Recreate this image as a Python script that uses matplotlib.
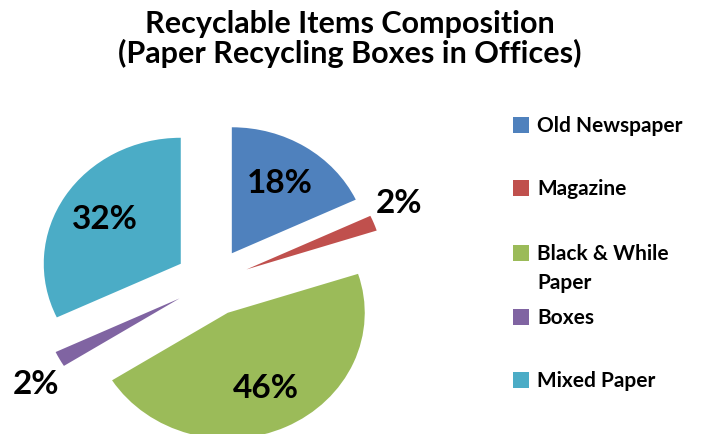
import numpy as np
import matplotlib.pyplot as plt
from matplotlib.patches import Rectangle

# -----------------------------
# Data
# -----------------------------
items = ["Old Newspaper", "Magazine", "Black & While\nPaper", "Boxes", "Mixed Paper"]
shares = [18, 2, 46, 2, 32]
colors = ["#4F81BD", "#C0504D", "#9BBB59", "#8064A2", "#4BACC6"]

title_lines = ["Recyclable Items Composition", "(Paper Recycling Boxes in Offices)"]

plt.rcParams['font.family'] = ['Lato', 'DejaVu Sans']
plt.rcParams['font.weight'] = 'bold'

W, H = 710, 434
fig = plt.figure(figsize=(W / 100, H / 100), dpi=100)


def px(x, y):
    # pixel position (top-left origin) -> figure fraction
    return x / W, 1 - y / H


# -----------------------------
# Pie (slightly wider than tall)
# -----------------------------
SX, SY = 137.0, 126.0  # pixels per unit radius, horizontal / vertical
cx, cy = 212, 282      # pie centre in pixels
ax = fig.add_axes([0, 0, 1, 1])
wedges, texts, autotexts = ax.pie(
    shares, colors=colors, startangle=90, counterclock=False,
    explode=[0.27] * len(shares), autopct='%1.0f%%', pctdistance=0.66,
    textprops=dict(fontsize=24, fontweight='bold', color='black'))
ax.set_aspect('auto')
ax.set_xlim(-cx / SX, (W - cx) / SX)
ax.set_ylim(-(H - cy) / SY, cy / SY)
ax.axis('off')

# thin slices get their labels outside
for w, t, v in zip(wedges, autotexts, shares):
    if v < 5:
        mid = np.deg2rad((w.theta1 + w.theta2) / 2)
        x0, y0 = w.center
        t.set_position((x0 + 1.2 * np.cos(mid), y0 + 1.42 * np.sin(mid)))

# -----------------------------
# Title
# -----------------------------
for line, base in zip(title_lines, [33, 63]):
    fig.text(*px(350, base), line, ha='center', va='baseline',
             fontsize=22, fontweight='bold')

# -----------------------------
# Legend
# -----------------------------
rows = [125, 188, 253, 317, 380]
for label, col, y in zip(items, colors, rows):
    fx, fy = px(513, y + 8)
    fig.add_artist(Rectangle((fx, fy), 16 / W, 16 / H, transform=fig.transFigure,
                             facecolor=col, edgecolor='none'))
    for k, part in enumerate(label.split("\n")):
        fig.text(*px(537, y + 7 + 29 * k), part, ha='left', va='baseline',
                 fontsize=15, fontweight='bold')

fig.savefig("out.png", dpi=100)
